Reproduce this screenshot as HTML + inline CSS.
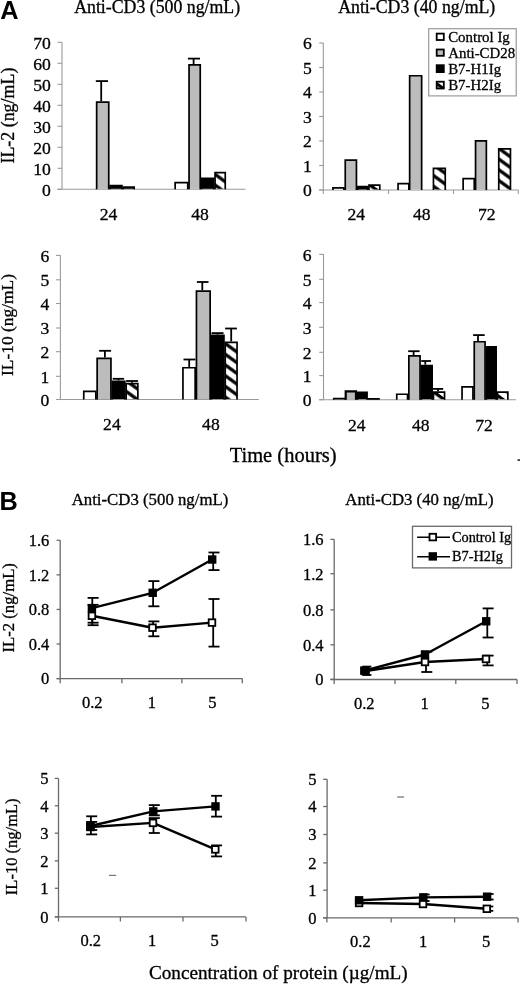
<!DOCTYPE html><html><head><meta charset="utf-8"><style>html,body{margin:0;padding:0;background:#fff;}svg{display:block;will-change:transform;}</style></head><body>
<svg width="520" height="985" viewBox="0 0 520 985">
<defs><pattern id="hatch" patternUnits="userSpaceOnUse" width="8.66" height="8.66" patternTransform="rotate(36)"><rect width="8.66" height="8.66" fill="#fff"/><rect y="0" width="8.66" height="3.24" fill="#000"/></pattern></defs>
<rect width="520" height="985" fill="#fff"/>
<text x="0.3" y="18.6" font-size="25.3" text-anchor="start" font-family='"Liberation Sans", sans-serif' font-weight="bold" fill="#000" stroke="#000" stroke-width="0">A</text>
<text x="74.2" y="13.3" font-size="17.8" text-anchor="start" font-family='"Liberation Serif", serif' font-weight="normal" fill="#000" stroke="#000" stroke-width="0.3">Anti-CD3 (500 ng/mL)</text>
<text x="338.2" y="13.3" font-size="17.8" text-anchor="start" font-family='"Liberation Serif", serif' font-weight="normal" fill="#000" stroke="#000" stroke-width="0.3">Anti-CD3 (40 ng/mL)</text>
<line x1="62" y1="42.3" x2="62" y2="189.3" stroke="#9a9a9a" stroke-width="1.1"/>
<line x1="57.5" y1="189.3" x2="62" y2="189.3" stroke="#9a9a9a" stroke-width="1.1"/>
<text x="50.8" y="195.5" font-size="17.6" text-anchor="end" font-family='"Liberation Serif", serif' font-weight="normal" fill="#000" stroke="#000" stroke-width="0.3">0</text>
<line x1="57.5" y1="168.3" x2="62" y2="168.3" stroke="#9a9a9a" stroke-width="1.1"/>
<text x="50.8" y="174.5" font-size="17.6" text-anchor="end" font-family='"Liberation Serif", serif' font-weight="normal" fill="#000" stroke="#000" stroke-width="0.3">10</text>
<line x1="57.5" y1="147.3" x2="62" y2="147.3" stroke="#9a9a9a" stroke-width="1.1"/>
<text x="50.8" y="153.5" font-size="17.6" text-anchor="end" font-family='"Liberation Serif", serif' font-weight="normal" fill="#000" stroke="#000" stroke-width="0.3">20</text>
<line x1="57.5" y1="126.30000000000001" x2="62" y2="126.30000000000001" stroke="#9a9a9a" stroke-width="1.1"/>
<text x="50.8" y="132.5" font-size="17.6" text-anchor="end" font-family='"Liberation Serif", serif' font-weight="normal" fill="#000" stroke="#000" stroke-width="0.3">30</text>
<line x1="57.5" y1="105.30000000000001" x2="62" y2="105.30000000000001" stroke="#9a9a9a" stroke-width="1.1"/>
<text x="50.8" y="111.50000000000001" font-size="17.6" text-anchor="end" font-family='"Liberation Serif", serif' font-weight="normal" fill="#000" stroke="#000" stroke-width="0.3">40</text>
<line x1="57.5" y1="84.30000000000001" x2="62" y2="84.30000000000001" stroke="#9a9a9a" stroke-width="1.1"/>
<text x="50.8" y="90.50000000000001" font-size="17.6" text-anchor="end" font-family='"Liberation Serif", serif' font-weight="normal" fill="#000" stroke="#000" stroke-width="0.3">50</text>
<line x1="57.5" y1="63.30000000000001" x2="62" y2="63.30000000000001" stroke="#9a9a9a" stroke-width="1.1"/>
<text x="50.8" y="69.50000000000001" font-size="17.6" text-anchor="end" font-family='"Liberation Serif", serif' font-weight="normal" fill="#000" stroke="#000" stroke-width="0.3">60</text>
<line x1="57.5" y1="42.30000000000001" x2="62" y2="42.30000000000001" stroke="#9a9a9a" stroke-width="1.1"/>
<text x="50.8" y="48.500000000000014" font-size="17.6" text-anchor="end" font-family='"Liberation Serif", serif' font-weight="normal" fill="#000" stroke="#000" stroke-width="0.3">70</text>
<line x1="57.5" y1="189.3" x2="245.5" y2="189.3" stroke="#9a9a9a" stroke-width="1.1"/>
<rect x="110.05" y="185.65" width="11.90" height="3.15" fill="#000"/>
<path d="M110.05,189.30 V185.65 H121.95 V189.30" fill="none" stroke="#000" stroke-width="1.7"/>
<rect x="123.25" y="187.05" width="10.90" height="1.75" fill="#000"/>
<path d="M123.25,189.30 V187.05 H134.15 V189.30" fill="none" stroke="#000" stroke-width="1.7"/>
<rect x="96.65" y="102.05" width="12.10" height="86.75" fill="#bcbcbc"/>
<path d="M96.65,189.30 V102.05 H108.75 V189.30" fill="none" stroke="#000" stroke-width="1.7"/>
<line x1="101.2" y1="81.1" x2="101.2" y2="101.2" stroke="#000" stroke-width="1.8"/>
<line x1="95.8" y1="81.1" x2="108.0" y2="81.1" stroke="#000" stroke-width="1.8"/>
<rect x="175.15" y="182.65" width="12.60" height="6.15" fill="#fff"/>
<path d="M175.15,189.30 V182.65 H187.75 V189.30" fill="none" stroke="#000" stroke-width="1.7"/>
<rect x="201.55" y="178.35" width="12.20" height="10.45" fill="#000"/>
<path d="M201.55,189.30 V178.35 H213.75 V189.30" fill="none" stroke="#000" stroke-width="1.7"/>
<rect x="215.05" y="172.65" width="10.20" height="16.15" fill="url(#h0)"/>
<path d="M215.05,189.30 V172.65 H225.25 V189.30" fill="none" stroke="#000" stroke-width="1.7"/>
<rect x="189.05" y="64.95" width="11.20" height="123.85" fill="#bcbcbc"/>
<path d="M189.05,189.30 V64.95 H200.25 V189.30" fill="none" stroke="#000" stroke-width="1.7"/>
<line x1="193.6" y1="58.6" x2="193.6" y2="64.1" stroke="#000" stroke-width="1.8"/>
<line x1="187.9" y1="58.6" x2="200.0" y2="58.6" stroke="#000" stroke-width="1.8"/>
<text x="108.5" y="219.5" font-size="17.6" text-anchor="middle" font-family='"Liberation Serif", serif' font-weight="normal" fill="#000" stroke="#000" stroke-width="0.3">24</text>
<text x="200.1" y="219.5" font-size="17.6" text-anchor="middle" font-family='"Liberation Serif", serif' font-weight="normal" fill="#000" stroke="#000" stroke-width="0.3">48</text>
<text x="13.8" y="115.6" font-size="17.9" text-anchor="middle" font-family='"Liberation Serif", serif' font-weight="normal" fill="#000" stroke="#000" stroke-width="0.3" transform="rotate(-90 13.8 115.6)">IL-2 (ng/mL)</text>
<line x1="323.3" y1="42.9" x2="323.3" y2="194" stroke="#9a9a9a" stroke-width="1.1"/>
<line x1="319.2" y1="190.0" x2="323.3" y2="190.0" stroke="#9a9a9a" stroke-width="1.1"/>
<text x="311.8" y="196.2" font-size="17.6" text-anchor="end" font-family='"Liberation Serif", serif' font-weight="normal" fill="#000" stroke="#000" stroke-width="0.3">0</text>
<line x1="319.2" y1="165.5" x2="323.3" y2="165.5" stroke="#9a9a9a" stroke-width="1.1"/>
<text x="311.8" y="171.7" font-size="17.6" text-anchor="end" font-family='"Liberation Serif", serif' font-weight="normal" fill="#000" stroke="#000" stroke-width="0.3">1</text>
<line x1="319.2" y1="141.0" x2="323.3" y2="141.0" stroke="#9a9a9a" stroke-width="1.1"/>
<text x="311.8" y="147.2" font-size="17.6" text-anchor="end" font-family='"Liberation Serif", serif' font-weight="normal" fill="#000" stroke="#000" stroke-width="0.3">2</text>
<line x1="319.2" y1="116.5" x2="323.3" y2="116.5" stroke="#9a9a9a" stroke-width="1.1"/>
<text x="311.8" y="122.7" font-size="17.6" text-anchor="end" font-family='"Liberation Serif", serif' font-weight="normal" fill="#000" stroke="#000" stroke-width="0.3">3</text>
<line x1="319.2" y1="92.0" x2="323.3" y2="92.0" stroke="#9a9a9a" stroke-width="1.1"/>
<text x="311.8" y="98.2" font-size="17.6" text-anchor="end" font-family='"Liberation Serif", serif' font-weight="normal" fill="#000" stroke="#000" stroke-width="0.3">4</text>
<line x1="319.2" y1="67.5" x2="323.3" y2="67.5" stroke="#9a9a9a" stroke-width="1.1"/>
<text x="311.8" y="73.7" font-size="17.6" text-anchor="end" font-family='"Liberation Serif", serif' font-weight="normal" fill="#000" stroke="#000" stroke-width="0.3">5</text>
<line x1="319.2" y1="43.0" x2="323.3" y2="43.0" stroke="#9a9a9a" stroke-width="1.1"/>
<text x="311.8" y="49.2" font-size="17.6" text-anchor="end" font-family='"Liberation Serif", serif' font-weight="normal" fill="#000" stroke="#000" stroke-width="0.3">6</text>
<line x1="319.2" y1="190" x2="518.5" y2="190" stroke="#9a9a9a" stroke-width="1.1"/>
<line x1="388.5" y1="190" x2="388.5" y2="194" stroke="#9a9a9a" stroke-width="1.1"/>
<line x1="453.5" y1="190" x2="453.5" y2="194" stroke="#9a9a9a" stroke-width="1.1"/>
<line x1="518.3" y1="190" x2="518.3" y2="194" stroke="#9a9a9a" stroke-width="1.1"/>
<rect x="332.95" y="187.95" width="11.00" height="1.55" fill="#fff"/>
<path d="M332.95,190.00 V187.95 H343.95 V190.00" fill="none" stroke="#000" stroke-width="1.7"/>
<rect x="345.25" y="160.05" width="11.20" height="29.45" fill="#bcbcbc"/>
<path d="M345.25,190.00 V160.05 H356.45 V190.00" fill="none" stroke="#000" stroke-width="1.7"/>
<rect x="357.75" y="186.65" width="9.90" height="2.85" fill="#000"/>
<path d="M357.75,190.00 V186.65 H367.65 V190.00" fill="none" stroke="#000" stroke-width="1.7"/>
<rect x="368.95" y="185.05" width="10.80" height="4.45" fill="url(#hatch)"/>
<path d="M368.95,190.00 V185.05 H379.75 V190.00" fill="none" stroke="#000" stroke-width="1.7"/>
<rect x="398.05" y="183.55" width="10.80" height="5.95" fill="#fff"/>
<path d="M398.05,190.00 V183.55 H408.85 V190.00" fill="none" stroke="#000" stroke-width="1.7"/>
<rect x="409.65" y="75.75" width="12.00" height="113.75" fill="#bcbcbc"/>
<path d="M409.65,190.00 V75.75 H421.65 V190.00" fill="none" stroke="#000" stroke-width="1.7"/>
<rect x="433.45" y="168.35" width="11.80" height="21.15" fill="url(#h1)"/>
<path d="M433.45,190.00 V168.35 H445.25 V190.00" fill="none" stroke="#000" stroke-width="1.7"/>
<rect x="463.15" y="178.65" width="11.10" height="10.85" fill="#fff"/>
<path d="M463.15,190.00 V178.65 H474.25 V190.00" fill="none" stroke="#000" stroke-width="1.7"/>
<rect x="475.55" y="140.95" width="10.80" height="48.55" fill="#bcbcbc"/>
<path d="M475.55,190.00 V140.95 H486.35 V190.00" fill="none" stroke="#000" stroke-width="1.7"/>
<rect x="498.75" y="148.95" width="11.70" height="40.55" fill="url(#h2)"/>
<path d="M498.75,190.00 V148.95 H510.45 V190.00" fill="none" stroke="#000" stroke-width="1.7"/>
<text x="356.3" y="219.7" font-size="17.6" text-anchor="middle" font-family='"Liberation Serif", serif' font-weight="normal" fill="#000" stroke="#000" stroke-width="0.3">24</text>
<text x="421.7" y="219.7" font-size="17.6" text-anchor="middle" font-family='"Liberation Serif", serif' font-weight="normal" fill="#000" stroke="#000" stroke-width="0.3">48</text>
<text x="486.8" y="219.7" font-size="17.6" text-anchor="middle" font-family='"Liberation Serif", serif' font-weight="normal" fill="#000" stroke="#000" stroke-width="0.3">72</text>
<rect x="428.7" y="28.7" width="87.5" height="67.2" fill="#fff" stroke="#9a9a9a" stroke-width="1.2"/>
<rect x="436.7" y="33.6" width="7.1" height="6.40" fill="#fff" stroke="#000" stroke-width="1.8"/>
<text x="448.2" y="42.2" font-size="14.9" text-anchor="start" font-family='"Liberation Serif", serif' font-weight="normal" fill="#000" stroke="#000" stroke-width="0.3">Control Ig</text>
<rect x="436.7" y="49.5" width="7.1" height="6.30" fill="#bcbcbc" stroke="#000" stroke-width="1.8"/>
<text x="448.2" y="58.0" font-size="14.9" text-anchor="start" font-family='"Liberation Serif", serif' font-weight="normal" fill="#000" stroke="#000" stroke-width="0.3">Anti-CD28</text>
<rect x="436.7" y="65.2" width="7.1" height="6.90" fill="#000" stroke="#000" stroke-width="1.8"/>
<text x="448.2" y="74.0" font-size="14.9" text-anchor="start" font-family='"Liberation Serif", serif' font-weight="normal" fill="#000" stroke="#000" stroke-width="0.3">B7-H1Ig</text>
<rect x="436.7" y="81.7" width="7.1" height="6.80" fill="url(#hatch)" stroke="#000" stroke-width="1.8"/>
<text x="448.2" y="90.1" font-size="14.9" text-anchor="start" font-family='"Liberation Serif", serif' font-weight="normal" fill="#000" stroke="#000" stroke-width="0.3">B7-H2Ig</text>
<line x1="60.4" y1="255.2" x2="60.4" y2="399.5" stroke="#9a9a9a" stroke-width="1.1"/>
<line x1="56" y1="399.5" x2="60.4" y2="399.5" stroke="#9a9a9a" stroke-width="1.1"/>
<text x="49.2" y="405.7" font-size="17.6" text-anchor="end" font-family='"Liberation Serif", serif' font-weight="normal" fill="#000" stroke="#000" stroke-width="0.3">0</text>
<line x1="56" y1="376.3" x2="60.4" y2="376.3" stroke="#9a9a9a" stroke-width="1.1"/>
<text x="49.2" y="382.5" font-size="17.6" text-anchor="end" font-family='"Liberation Serif", serif' font-weight="normal" fill="#000" stroke="#000" stroke-width="0.3">1</text>
<line x1="56" y1="351.7" x2="60.4" y2="351.7" stroke="#9a9a9a" stroke-width="1.1"/>
<text x="49.2" y="357.9" font-size="17.6" text-anchor="end" font-family='"Liberation Serif", serif' font-weight="normal" fill="#000" stroke="#000" stroke-width="0.3">2</text>
<line x1="56" y1="328.0" x2="60.4" y2="328.0" stroke="#9a9a9a" stroke-width="1.1"/>
<text x="49.2" y="334.2" font-size="17.6" text-anchor="end" font-family='"Liberation Serif", serif' font-weight="normal" fill="#000" stroke="#000" stroke-width="0.3">3</text>
<line x1="56" y1="303.5" x2="60.4" y2="303.5" stroke="#9a9a9a" stroke-width="1.1"/>
<text x="49.2" y="309.7" font-size="17.6" text-anchor="end" font-family='"Liberation Serif", serif' font-weight="normal" fill="#000" stroke="#000" stroke-width="0.3">4</text>
<line x1="56" y1="279.8" x2="60.4" y2="279.8" stroke="#9a9a9a" stroke-width="1.1"/>
<text x="49.2" y="286.0" font-size="17.6" text-anchor="end" font-family='"Liberation Serif", serif' font-weight="normal" fill="#000" stroke="#000" stroke-width="0.3">5</text>
<line x1="56" y1="255.4" x2="60.4" y2="255.4" stroke="#9a9a9a" stroke-width="1.1"/>
<text x="49.2" y="261.6" font-size="17.6" text-anchor="end" font-family='"Liberation Serif", serif' font-weight="normal" fill="#000" stroke="#000" stroke-width="0.3">6</text>
<line x1="56" y1="399.5" x2="258.8" y2="399.5" stroke="#9a9a9a" stroke-width="1.1"/>
<rect x="83.75" y="391.35" width="12.10" height="7.65" fill="#fff"/>
<path d="M83.75,399.50 V391.35 H95.85 V399.50" fill="none" stroke="#000" stroke-width="1.7"/>
<rect x="112.25" y="381.25" width="12.60" height="17.75" fill="#000"/>
<path d="M112.25,399.50 V381.25 H124.85 V399.50" fill="none" stroke="#000" stroke-width="1.7"/>
<line x1="118.5" y1="378.8" x2="118.5" y2="380.4" stroke="#000" stroke-width="1.8"/>
<line x1="112.7" y1="378.8" x2="124.1" y2="378.8" stroke="#000" stroke-width="1.8"/>
<rect x="126.15" y="383.65" width="11.70" height="15.35" fill="url(#h3)"/>
<path d="M126.15,399.50 V383.65 H137.85 V399.50" fill="none" stroke="#000" stroke-width="1.7"/>
<line x1="132" y1="381" x2="132" y2="382.8" stroke="#000" stroke-width="1.8"/>
<line x1="126.1" y1="381" x2="138" y2="381" stroke="#000" stroke-width="1.8"/>
<rect x="97.15" y="358.35" width="13.80" height="40.65" fill="#bcbcbc"/>
<path d="M97.15,399.50 V358.35 H110.95 V399.50" fill="none" stroke="#000" stroke-width="1.7"/>
<line x1="104.9" y1="350.8" x2="104.9" y2="357.5" stroke="#000" stroke-width="1.8"/>
<line x1="99.2" y1="350.8" x2="111.1" y2="350.8" stroke="#000" stroke-width="1.8"/>
<rect x="182.95" y="367.75" width="12.20" height="31.25" fill="#fff"/>
<path d="M182.95,399.50 V367.75 H195.15 V399.50" fill="none" stroke="#000" stroke-width="1.7"/>
<line x1="189.2" y1="359.5" x2="189.2" y2="366.9" stroke="#000" stroke-width="1.8"/>
<line x1="183.5" y1="359.5" x2="195.4" y2="359.5" stroke="#000" stroke-width="1.8"/>
<rect x="211.45" y="335.45" width="12.50" height="63.55" fill="#000"/>
<path d="M211.45,399.50 V335.45 H223.95 V399.50" fill="none" stroke="#000" stroke-width="1.7"/>
<line x1="217.5" y1="333.1" x2="217.5" y2="334.6" stroke="#000" stroke-width="1.8"/>
<line x1="211.5" y1="333.1" x2="223.5" y2="333.1" stroke="#000" stroke-width="1.8"/>
<rect x="225.25" y="342.35" width="11.80" height="56.65" fill="url(#h4)"/>
<path d="M225.25,399.50 V342.35 H237.05 V399.50" fill="none" stroke="#000" stroke-width="1.7"/>
<line x1="231.2" y1="328.5" x2="231.2" y2="341.5" stroke="#000" stroke-width="1.8"/>
<line x1="225.1" y1="328.5" x2="236.9" y2="328.5" stroke="#000" stroke-width="1.8"/>
<rect x="196.45" y="291.15" width="13.70" height="107.85" fill="#bcbcbc"/>
<path d="M196.45,399.50 V291.15 H210.15 V399.50" fill="none" stroke="#000" stroke-width="1.7"/>
<line x1="202.3" y1="282" x2="202.3" y2="290.3" stroke="#000" stroke-width="1.8"/>
<line x1="196.9" y1="282" x2="208.5" y2="282" stroke="#000" stroke-width="1.8"/>
<text x="111.9" y="430" font-size="17.6" text-anchor="middle" font-family='"Liberation Serif", serif' font-weight="normal" fill="#000" stroke="#000" stroke-width="0.3">24</text>
<text x="210.9" y="430" font-size="17.6" text-anchor="middle" font-family='"Liberation Serif", serif' font-weight="normal" fill="#000" stroke="#000" stroke-width="0.3">48</text>
<text x="13.3" y="325.0" font-size="17.4" text-anchor="middle" font-family='"Liberation Serif", serif' font-weight="normal" fill="#000" stroke="#000" stroke-width="0.3" transform="rotate(-90 13.3 325.0)">IL-10 (ng/mL)</text>
<line x1="323.5" y1="254.3" x2="323.5" y2="399.7" stroke="#9a9a9a" stroke-width="1.1"/>
<line x1="319.2" y1="399.7" x2="323.5" y2="399.7" stroke="#9a9a9a" stroke-width="1.1"/>
<text x="311.6" y="405.9" font-size="17.6" text-anchor="end" font-family='"Liberation Serif", serif' font-weight="normal" fill="#000" stroke="#000" stroke-width="0.3">0</text>
<line x1="319.2" y1="375.6" x2="323.5" y2="375.6" stroke="#9a9a9a" stroke-width="1.1"/>
<text x="311.6" y="381.8" font-size="17.6" text-anchor="end" font-family='"Liberation Serif", serif' font-weight="normal" fill="#000" stroke="#000" stroke-width="0.3">1</text>
<line x1="319.2" y1="352.3" x2="323.5" y2="352.3" stroke="#9a9a9a" stroke-width="1.1"/>
<text x="311.6" y="358.5" font-size="17.6" text-anchor="end" font-family='"Liberation Serif", serif' font-weight="normal" fill="#000" stroke="#000" stroke-width="0.3">2</text>
<line x1="319.2" y1="327.3" x2="323.5" y2="327.3" stroke="#9a9a9a" stroke-width="1.1"/>
<text x="311.6" y="333.5" font-size="17.6" text-anchor="end" font-family='"Liberation Serif", serif' font-weight="normal" fill="#000" stroke="#000" stroke-width="0.3">3</text>
<line x1="319.2" y1="302.6" x2="323.5" y2="302.6" stroke="#9a9a9a" stroke-width="1.1"/>
<text x="311.6" y="308.8" font-size="17.6" text-anchor="end" font-family='"Liberation Serif", serif' font-weight="normal" fill="#000" stroke="#000" stroke-width="0.3">4</text>
<line x1="319.2" y1="279.3" x2="323.5" y2="279.3" stroke="#9a9a9a" stroke-width="1.1"/>
<text x="311.6" y="285.5" font-size="17.6" text-anchor="end" font-family='"Liberation Serif", serif' font-weight="normal" fill="#000" stroke="#000" stroke-width="0.3">5</text>
<line x1="319.2" y1="254.4" x2="323.5" y2="254.4" stroke="#9a9a9a" stroke-width="1.1"/>
<text x="311.6" y="260.6" font-size="17.6" text-anchor="end" font-family='"Liberation Serif", serif' font-weight="normal" fill="#000" stroke="#000" stroke-width="0.3">6</text>
<line x1="319.2" y1="399.7" x2="516" y2="399.7" stroke="#9a9a9a" stroke-width="1.1"/>
<rect x="333.75" y="398.65" width="11.60" height="0.55" fill="#fff"/>
<path d="M333.75,399.70 V398.65 H345.35 V399.70" fill="none" stroke="#000" stroke-width="1.7"/>
<rect x="345.70" y="391.30" width="10.30" height="7.90" fill="#bcbcbc"/>
<path d="M345.70,399.70 V391.30 H356.00 V399.70" fill="none" stroke="#000" stroke-width="2.2"/>
<rect x="357.55" y="392.35" width="9.50" height="6.85" fill="#000"/>
<path d="M357.55,399.70 V392.35 H367.05 V399.70" fill="none" stroke="#000" stroke-width="1.7"/>
<rect x="368.35" y="398.85" width="10.60" height="0.35" fill="#000"/>
<path d="M368.35,399.70 V398.85 H378.95 V399.70" fill="none" stroke="#000" stroke-width="1.7"/>
<rect x="396.75" y="394.25" width="10.80" height="4.95" fill="#fff"/>
<path d="M396.75,399.70 V394.25 H407.55 V399.70" fill="none" stroke="#000" stroke-width="1.7"/>
<rect x="421.35" y="365.55" width="10.80" height="33.65" fill="#000"/>
<path d="M421.35,399.70 V365.55 H432.15 V399.70" fill="none" stroke="#000" stroke-width="1.7"/>
<line x1="425.3" y1="361" x2="425.3" y2="364.7" stroke="#000" stroke-width="1.8"/>
<line x1="421.2" y1="361" x2="431" y2="361" stroke="#000" stroke-width="1.8"/>
<rect x="433.45" y="392.15" width="11.10" height="7.05" fill="url(#hatch)"/>
<path d="M433.45,399.70 V392.15 H444.55 V399.70" fill="none" stroke="#000" stroke-width="1.7"/>
<line x1="438" y1="388.9" x2="438" y2="391.3" stroke="#000" stroke-width="1.8"/>
<line x1="433" y1="388.9" x2="443.2" y2="388.9" stroke="#000" stroke-width="1.8"/>
<rect x="408.85" y="355.85" width="11.20" height="43.35" fill="#bcbcbc"/>
<path d="M408.85,399.70 V355.85 H420.05 V399.70" fill="none" stroke="#000" stroke-width="1.7"/>
<line x1="413.6" y1="351.2" x2="413.6" y2="355.0" stroke="#000" stroke-width="1.8"/>
<line x1="408.2" y1="351.2" x2="419.6" y2="351.2" stroke="#000" stroke-width="1.8"/>
<rect x="462.05" y="386.85" width="10.90" height="12.35" fill="#fff"/>
<path d="M462.05,399.70 V386.85 H472.95 V399.70" fill="none" stroke="#000" stroke-width="1.7"/>
<rect x="486.35" y="346.85" width="9.80" height="52.35" fill="#000"/>
<path d="M486.35,399.70 V346.85 H496.15 V399.70" fill="none" stroke="#000" stroke-width="1.7"/>
<rect x="497.45" y="392.15" width="10.40" height="7.05" fill="url(#hatch)"/>
<path d="M497.45,399.70 V392.15 H507.85 V399.70" fill="none" stroke="#000" stroke-width="1.7"/>
<rect x="474.25" y="341.75" width="10.80" height="57.45" fill="#bcbcbc"/>
<path d="M474.25,399.70 V341.75 H485.05 V399.70" fill="none" stroke="#000" stroke-width="1.7"/>
<line x1="478" y1="335.1" x2="478" y2="340.9" stroke="#000" stroke-width="1.8"/>
<line x1="473.1" y1="335.1" x2="484.7" y2="335.1" stroke="#000" stroke-width="1.8"/>
<text x="356.7" y="431" font-size="17.6" text-anchor="middle" font-family='"Liberation Serif", serif' font-weight="normal" fill="#000" stroke="#000" stroke-width="0.3">24</text>
<text x="420.7" y="431" font-size="17.6" text-anchor="middle" font-family='"Liberation Serif", serif' font-weight="normal" fill="#000" stroke="#000" stroke-width="0.3">48</text>
<text x="484.0" y="431" font-size="17.6" text-anchor="middle" font-family='"Liberation Serif", serif' font-weight="normal" fill="#000" stroke="#000" stroke-width="0.3">72</text>
<text x="283.1" y="461.9" font-size="20.5" text-anchor="middle" font-family='"Liberation Serif", serif' font-weight="normal" fill="#000" stroke="#000" stroke-width="0.3">Time (hours)</text>
<text x="-0.5" y="510.4" font-size="25.3" text-anchor="start" font-family='"Liberation Sans", sans-serif' font-weight="bold" fill="#000" stroke="#000" stroke-width="0">B</text>
<text x="71.7" y="504.9" font-size="16.8" text-anchor="start" font-family='"Liberation Serif", serif' font-weight="normal" fill="#000" stroke="#000" stroke-width="0.3">Anti-CD3 (500 ng/mL)</text>
<text x="345.3" y="505.2" font-size="16.8" text-anchor="start" font-family='"Liberation Serif", serif' font-weight="normal" fill="#000" stroke="#000" stroke-width="0.3">Anti-CD3 (40 ng/mL)</text>
<line x1="60.2" y1="540.3" x2="60.2" y2="678.5" stroke="#6a6a6a" stroke-width="1.3"/>
<line x1="56.6" y1="678.6" x2="60.2" y2="678.6" stroke="#6a6a6a" stroke-width="1.3"/>
<text x="49.3" y="684.4" font-size="16.5" text-anchor="end" font-family='"Liberation Serif", serif' font-weight="normal" fill="#000" stroke="#000" stroke-width="0.3">0</text>
<line x1="56.6" y1="644.02" x2="60.2" y2="644.02" stroke="#6a6a6a" stroke-width="1.3"/>
<text x="49.3" y="649.8199999999999" font-size="16.5" text-anchor="end" font-family='"Liberation Serif", serif' font-weight="normal" fill="#000" stroke="#000" stroke-width="0.3">0.4</text>
<line x1="56.6" y1="609.44" x2="60.2" y2="609.44" stroke="#6a6a6a" stroke-width="1.3"/>
<text x="49.3" y="615.24" font-size="16.5" text-anchor="end" font-family='"Liberation Serif", serif' font-weight="normal" fill="#000" stroke="#000" stroke-width="0.3">0.8</text>
<line x1="56.6" y1="574.86" x2="60.2" y2="574.86" stroke="#6a6a6a" stroke-width="1.3"/>
<text x="49.3" y="580.66" font-size="16.5" text-anchor="end" font-family='"Liberation Serif", serif' font-weight="normal" fill="#000" stroke="#000" stroke-width="0.3">1.2</text>
<line x1="56.6" y1="540.28" x2="60.2" y2="540.28" stroke="#6a6a6a" stroke-width="1.3"/>
<text x="49.3" y="546.0799999999999" font-size="16.5" text-anchor="end" font-family='"Liberation Serif", serif' font-weight="normal" fill="#000" stroke="#000" stroke-width="0.3">1.6</text>
<line x1="56.6" y1="678.6" x2="242.3" y2="678.6" stroke="#6a6a6a" stroke-width="1.3"/>
<line x1="60.2" y1="678.6" x2="60.2" y2="683.2" stroke="#6a6a6a" stroke-width="1.3"/>
<line x1="121.9" y1="678.6" x2="121.9" y2="683.2" stroke="#6a6a6a" stroke-width="1.3"/>
<line x1="181.9" y1="678.6" x2="181.9" y2="683.2" stroke="#6a6a6a" stroke-width="1.3"/>
<line x1="242.3" y1="678.6" x2="242.3" y2="683.2" stroke="#6a6a6a" stroke-width="1.3"/>
<text x="92.3" y="707.7" font-size="16.5" text-anchor="middle" font-family='"Liberation Serif", serif' font-weight="normal" fill="#000" stroke="#000" stroke-width="0.3">0.2</text>
<text x="151.9" y="707.7" font-size="16.5" text-anchor="middle" font-family='"Liberation Serif", serif' font-weight="normal" fill="#000" stroke="#000" stroke-width="0.3">1</text>
<text x="212.3" y="707.7" font-size="16.5" text-anchor="middle" font-family='"Liberation Serif", serif' font-weight="normal" fill="#000" stroke="#000" stroke-width="0.3">5</text>
<text x="14.2" y="607.8" font-size="16.7" text-anchor="middle" font-family='"Liberation Serif", serif' font-weight="normal" fill="#000" stroke="#000" stroke-width="0.3" transform="rotate(-90 14.2 607.8)">IL-2 (ng/mL)</text>
<line x1="92.3" y1="604.8" x2="92.3" y2="625.2" stroke="#000" stroke-width="1.8"/>
<line x1="87.6" y1="604.8" x2="98.6" y2="604.8" stroke="#000" stroke-width="1.8"/>
<line x1="87.6" y1="625.2" x2="98.6" y2="625.2" stroke="#000" stroke-width="1.8"/>
<line x1="92.3" y1="597.9" x2="92.3" y2="622.7" stroke="#000" stroke-width="1.8"/>
<line x1="87.6" y1="597.9" x2="98.6" y2="597.9" stroke="#000" stroke-width="1.8"/>
<line x1="87.6" y1="622.7" x2="98.6" y2="622.7" stroke="#000" stroke-width="1.8"/>
<line x1="153.1" y1="621.4" x2="153.1" y2="636.3" stroke="#000" stroke-width="1.8"/>
<line x1="148.4" y1="621.4" x2="159.4" y2="621.4" stroke="#000" stroke-width="1.8"/>
<line x1="148.4" y1="636.3" x2="159.4" y2="636.3" stroke="#000" stroke-width="1.8"/>
<line x1="153.1" y1="581.1" x2="153.1" y2="606.3" stroke="#000" stroke-width="1.8"/>
<line x1="148.4" y1="581.1" x2="159.4" y2="581.1" stroke="#000" stroke-width="1.8"/>
<line x1="148.4" y1="606.3" x2="159.4" y2="606.3" stroke="#000" stroke-width="1.8"/>
<line x1="213.2" y1="599.0" x2="213.2" y2="646.6" stroke="#000" stroke-width="1.8"/>
<line x1="208.5" y1="599.0" x2="219.5" y2="599.0" stroke="#000" stroke-width="1.8"/>
<line x1="208.5" y1="646.6" x2="219.5" y2="646.6" stroke="#000" stroke-width="1.8"/>
<line x1="213.2" y1="552.5" x2="213.2" y2="570.1" stroke="#000" stroke-width="1.8"/>
<line x1="208.5" y1="552.5" x2="219.5" y2="552.5" stroke="#000" stroke-width="1.8"/>
<line x1="208.5" y1="570.1" x2="219.5" y2="570.1" stroke="#000" stroke-width="1.8"/>
<polyline points="91.90,615.80 152.50,627.70 212.00,622.60" fill="none" stroke="#000" stroke-width="2.4" stroke-linejoin="round"/>
<polyline points="91.90,608.20 152.70,592.80 212.20,559.50" fill="none" stroke="#000" stroke-width="2.4" stroke-linejoin="round"/>
<rect x="88.60" y="612.50" width="6.60" height="6.60" fill="#fff" stroke="#000" stroke-width="1.8"/>
<rect x="149.20" y="624.40" width="6.60" height="6.60" fill="#fff" stroke="#000" stroke-width="1.8"/>
<rect x="208.70" y="619.30" width="6.60" height="6.60" fill="#fff" stroke="#000" stroke-width="1.8"/>
<rect x="87.70" y="604.00" width="8.4" height="8.4" fill="#000"/>
<rect x="148.50" y="588.60" width="8.4" height="8.4" fill="#000"/>
<rect x="208.00" y="555.30" width="8.4" height="8.4" fill="#000"/>
<line x1="334.2" y1="539.4" x2="334.2" y2="679.5" stroke="#6a6a6a" stroke-width="1.3"/>
<line x1="330.4" y1="679.4" x2="334.2" y2="679.4" stroke="#6a6a6a" stroke-width="1.3"/>
<text x="323.5" y="685.1999999999999" font-size="16.5" text-anchor="end" font-family='"Liberation Serif", serif' font-weight="normal" fill="#000" stroke="#000" stroke-width="0.3">0</text>
<line x1="330.4" y1="644.8" x2="334.2" y2="644.8" stroke="#6a6a6a" stroke-width="1.3"/>
<text x="323.5" y="650.5999999999999" font-size="16.5" text-anchor="end" font-family='"Liberation Serif", serif' font-weight="normal" fill="#000" stroke="#000" stroke-width="0.3">0.4</text>
<line x1="330.4" y1="609.9" x2="334.2" y2="609.9" stroke="#6a6a6a" stroke-width="1.3"/>
<text x="323.5" y="615.6999999999999" font-size="16.5" text-anchor="end" font-family='"Liberation Serif", serif' font-weight="normal" fill="#000" stroke="#000" stroke-width="0.3">0.8</text>
<line x1="330.4" y1="573.7" x2="334.2" y2="573.7" stroke="#6a6a6a" stroke-width="1.3"/>
<text x="323.5" y="579.5" font-size="16.5" text-anchor="end" font-family='"Liberation Serif", serif' font-weight="normal" fill="#000" stroke="#000" stroke-width="0.3">1.2</text>
<line x1="330.4" y1="539.4" x2="334.2" y2="539.4" stroke="#6a6a6a" stroke-width="1.3"/>
<text x="323.5" y="545.1999999999999" font-size="16.5" text-anchor="end" font-family='"Liberation Serif", serif' font-weight="normal" fill="#000" stroke="#000" stroke-width="0.3">1.6</text>
<line x1="330.4" y1="679.5" x2="517" y2="679.5" stroke="#6a6a6a" stroke-width="1.3"/>
<line x1="334.2" y1="679.5" x2="334.2" y2="684.0" stroke="#6a6a6a" stroke-width="1.3"/>
<line x1="395" y1="679.5" x2="395" y2="684.0" stroke="#6a6a6a" stroke-width="1.3"/>
<line x1="455.8" y1="679.5" x2="455.8" y2="684.0" stroke="#6a6a6a" stroke-width="1.3"/>
<line x1="517" y1="679.5" x2="517" y2="684.0" stroke="#6a6a6a" stroke-width="1.3"/>
<text x="364.2" y="708.5" font-size="16.5" text-anchor="middle" font-family='"Liberation Serif", serif' font-weight="normal" fill="#000" stroke="#000" stroke-width="0.3">0.2</text>
<text x="424.6" y="708.5" font-size="16.5" text-anchor="middle" font-family='"Liberation Serif", serif' font-weight="normal" fill="#000" stroke="#000" stroke-width="0.3">1</text>
<text x="485.4" y="708.5" font-size="16.5" text-anchor="middle" font-family='"Liberation Serif", serif' font-weight="normal" fill="#000" stroke="#000" stroke-width="0.3">5</text>
<line x1="366.0" y1="666.6" x2="366.0" y2="675.0" stroke="#000" stroke-width="1.8"/>
<line x1="362.2" y1="666.6" x2="371.40000000000003" y2="666.6" stroke="#000" stroke-width="1.8"/>
<line x1="362.2" y1="675.0" x2="371.40000000000003" y2="675.0" stroke="#000" stroke-width="1.8"/>
<line x1="426.0" y1="651.6" x2="426.0" y2="672.0" stroke="#000" stroke-width="1.8"/>
<line x1="421.3" y1="651.6" x2="432.3" y2="651.6" stroke="#000" stroke-width="1.8"/>
<line x1="421.3" y1="672.0" x2="432.3" y2="672.0" stroke="#000" stroke-width="1.8"/>
<line x1="487.3" y1="655.6" x2="487.3" y2="665.4" stroke="#000" stroke-width="1.8"/>
<line x1="482.6" y1="655.6" x2="493.6" y2="655.6" stroke="#000" stroke-width="1.8"/>
<line x1="482.6" y1="665.4" x2="493.6" y2="665.4" stroke="#000" stroke-width="1.8"/>
<line x1="487.3" y1="608.4" x2="487.3" y2="637.5" stroke="#000" stroke-width="1.8"/>
<line x1="482.6" y1="608.4" x2="493.6" y2="608.4" stroke="#000" stroke-width="1.8"/>
<line x1="482.6" y1="637.5" x2="493.6" y2="637.5" stroke="#000" stroke-width="1.8"/>
<polyline points="365.60,671.00 425.00,662.00 486.00,659.00" fill="none" stroke="#000" stroke-width="2.4" stroke-linejoin="round"/>
<polyline points="364.30,670.60 425.00,654.50 486.20,621.30" fill="none" stroke="#000" stroke-width="2.4" stroke-linejoin="round"/>
<rect x="362.30" y="667.70" width="6.60" height="6.60" fill="#fff" stroke="#000" stroke-width="1.8"/>
<rect x="421.70" y="658.70" width="6.60" height="6.60" fill="#fff" stroke="#000" stroke-width="1.8"/>
<rect x="482.70" y="655.70" width="6.60" height="6.60" fill="#fff" stroke="#000" stroke-width="1.8"/>
<rect x="360.10" y="666.40" width="8.4" height="8.4" fill="#000"/>
<rect x="420.80" y="650.30" width="8.4" height="8.4" fill="#000"/>
<rect x="482.00" y="617.10" width="8.4" height="8.4" fill="#000"/>
<rect x="412.5" y="526.3" width="99" height="41.6" fill="#fff" stroke="#6a6a6a" stroke-width="1.3"/>
<line x1="417.1" y1="537.3" x2="450" y2="537.3" stroke="#000" stroke-width="1.6"/>
<line x1="417.1" y1="556.7" x2="450" y2="556.7" stroke="#000" stroke-width="1.6"/>
<rect x="429.50" y="533.80" width="6.60" height="6.60" fill="#fff" stroke="#000" stroke-width="1.8"/>
<rect x="428.60" y="552.20" width="8.4" height="8.4" fill="#000"/>
<text x="452.0" y="541.9" font-size="14.3" text-anchor="start" font-family='"Liberation Serif", serif' font-weight="normal" fill="#000" stroke="#000" stroke-width="0.3">Control Ig</text>
<text x="452.0" y="561.3" font-size="14.3" text-anchor="start" font-family='"Liberation Serif", serif' font-weight="normal" fill="#000" stroke="#000" stroke-width="0.3">B7-H2Ig</text>
<line x1="58.5" y1="778.4" x2="58.5" y2="916.9" stroke="#6a6a6a" stroke-width="1.3"/>
<line x1="54.8" y1="916.9" x2="58.5" y2="916.9" stroke="#6a6a6a" stroke-width="1.3"/>
<text x="48.4" y="922.6999999999999" font-size="16.5" text-anchor="end" font-family='"Liberation Serif", serif' font-weight="normal" fill="#000" stroke="#000" stroke-width="0.3">0</text>
<line x1="54.8" y1="888.3" x2="58.5" y2="888.3" stroke="#6a6a6a" stroke-width="1.3"/>
<text x="48.4" y="894.0999999999999" font-size="16.5" text-anchor="end" font-family='"Liberation Serif", serif' font-weight="normal" fill="#000" stroke="#000" stroke-width="0.3">1</text>
<line x1="54.8" y1="860.9" x2="58.5" y2="860.9" stroke="#6a6a6a" stroke-width="1.3"/>
<text x="48.4" y="866.6999999999999" font-size="16.5" text-anchor="end" font-family='"Liberation Serif", serif' font-weight="normal" fill="#000" stroke="#000" stroke-width="0.3">2</text>
<line x1="54.8" y1="833.2" x2="58.5" y2="833.2" stroke="#6a6a6a" stroke-width="1.3"/>
<text x="48.4" y="839.0" font-size="16.5" text-anchor="end" font-family='"Liberation Serif", serif' font-weight="normal" fill="#000" stroke="#000" stroke-width="0.3">3</text>
<line x1="54.8" y1="805.8" x2="58.5" y2="805.8" stroke="#6a6a6a" stroke-width="1.3"/>
<text x="48.4" y="811.5999999999999" font-size="16.5" text-anchor="end" font-family='"Liberation Serif", serif' font-weight="normal" fill="#000" stroke="#000" stroke-width="0.3">4</text>
<line x1="54.8" y1="778.4" x2="58.5" y2="778.4" stroke="#6a6a6a" stroke-width="1.3"/>
<text x="48.4" y="784.1999999999999" font-size="16.5" text-anchor="end" font-family='"Liberation Serif", serif' font-weight="normal" fill="#000" stroke="#000" stroke-width="0.3">5</text>
<line x1="54.8" y1="916.9" x2="246" y2="916.9" stroke="#6a6a6a" stroke-width="1.3"/>
<line x1="58.5" y1="916.9" x2="58.5" y2="921.5" stroke="#6a6a6a" stroke-width="1.3"/>
<line x1="120.4" y1="916.9" x2="120.4" y2="921.5" stroke="#6a6a6a" stroke-width="1.3"/>
<line x1="183" y1="916.9" x2="183" y2="921.5" stroke="#6a6a6a" stroke-width="1.3"/>
<line x1="246" y1="916.9" x2="246" y2="921.5" stroke="#6a6a6a" stroke-width="1.3"/>
<text x="90.8" y="946.4" font-size="16.5" text-anchor="middle" font-family='"Liberation Serif", serif' font-weight="normal" fill="#000" stroke="#000" stroke-width="0.3">0.2</text>
<text x="152.1" y="946.4" font-size="16.5" text-anchor="middle" font-family='"Liberation Serif", serif' font-weight="normal" fill="#000" stroke="#000" stroke-width="0.3">1</text>
<text x="214.7" y="946.4" font-size="16.5" text-anchor="middle" font-family='"Liberation Serif", serif' font-weight="normal" fill="#000" stroke="#000" stroke-width="0.3">5</text>
<text x="17.1" y="846.8" font-size="16.5" text-anchor="middle" font-family='"Liberation Serif", serif' font-weight="normal" fill="#000" stroke="#000" stroke-width="0.3" transform="rotate(-90 17.1 846.8)">IL-10 (ng/mL)</text>
<line x1="90.9" y1="821.9" x2="90.9" y2="830.0" stroke="#000" stroke-width="1.8"/>
<line x1="86.2" y1="821.9" x2="97.2" y2="821.9" stroke="#000" stroke-width="1.8"/>
<line x1="86.2" y1="830.0" x2="97.2" y2="830.0" stroke="#000" stroke-width="1.8"/>
<line x1="90.9" y1="816.3" x2="90.9" y2="834.4" stroke="#000" stroke-width="1.8"/>
<line x1="86.2" y1="816.3" x2="97.2" y2="816.3" stroke="#000" stroke-width="1.8"/>
<line x1="86.2" y1="834.4" x2="97.2" y2="834.4" stroke="#000" stroke-width="1.8"/>
<line x1="153.5" y1="818.1" x2="153.5" y2="833.0" stroke="#000" stroke-width="1.8"/>
<line x1="148.8" y1="818.1" x2="159.8" y2="818.1" stroke="#000" stroke-width="1.8"/>
<line x1="148.8" y1="833.0" x2="159.8" y2="833.0" stroke="#000" stroke-width="1.8"/>
<line x1="153.5" y1="805.1" x2="153.5" y2="815.4" stroke="#000" stroke-width="1.8"/>
<line x1="148.8" y1="805.1" x2="159.8" y2="805.1" stroke="#000" stroke-width="1.8"/>
<line x1="148.8" y1="815.4" x2="159.8" y2="815.4" stroke="#000" stroke-width="1.8"/>
<line x1="215.8" y1="845.4" x2="215.8" y2="856.4" stroke="#000" stroke-width="1.8"/>
<line x1="211.10000000000002" y1="845.4" x2="222.10000000000002" y2="845.4" stroke="#000" stroke-width="1.8"/>
<line x1="211.10000000000002" y1="856.4" x2="222.10000000000002" y2="856.4" stroke="#000" stroke-width="1.8"/>
<line x1="215.8" y1="795.8" x2="215.8" y2="816.6" stroke="#000" stroke-width="1.8"/>
<line x1="211.10000000000002" y1="795.8" x2="222.10000000000002" y2="795.8" stroke="#000" stroke-width="1.8"/>
<line x1="211.10000000000002" y1="816.6" x2="222.10000000000002" y2="816.6" stroke="#000" stroke-width="1.8"/>
<polyline points="90.40,827.00 153.00,822.90 215.30,849.40" fill="none" stroke="#000" stroke-width="2.4" stroke-linejoin="round"/>
<polyline points="90.40,826.00 153.30,811.40 215.50,806.40" fill="none" stroke="#000" stroke-width="2.4" stroke-linejoin="round"/>
<rect x="87.10" y="823.70" width="6.60" height="6.60" fill="#fff" stroke="#000" stroke-width="1.8"/>
<rect x="149.70" y="819.60" width="6.60" height="6.60" fill="#fff" stroke="#000" stroke-width="1.8"/>
<rect x="212.00" y="846.10" width="6.60" height="6.60" fill="#fff" stroke="#000" stroke-width="1.8"/>
<rect x="86.20" y="821.80" width="8.4" height="8.4" fill="#000"/>
<rect x="149.10" y="807.20" width="8.4" height="8.4" fill="#000"/>
<rect x="211.30" y="802.20" width="8.4" height="8.4" fill="#000"/>
<line x1="109" y1="875.4" x2="116.2" y2="875.4" stroke="#777" stroke-width="1.2"/>
<line x1="327.1" y1="779.3" x2="327.1" y2="918.0" stroke="#6a6a6a" stroke-width="1.3"/>
<line x1="323.2" y1="917.9" x2="327.1" y2="917.9" stroke="#6a6a6a" stroke-width="1.3"/>
<text x="316.4" y="923.6999999999999" font-size="16.5" text-anchor="end" font-family='"Liberation Serif", serif' font-weight="normal" fill="#000" stroke="#000" stroke-width="0.3">0</text>
<line x1="323.2" y1="890.2" x2="327.1" y2="890.2" stroke="#6a6a6a" stroke-width="1.3"/>
<text x="316.4" y="896.0" font-size="16.5" text-anchor="end" font-family='"Liberation Serif", serif' font-weight="normal" fill="#000" stroke="#000" stroke-width="0.3">1</text>
<line x1="323.2" y1="862.9" x2="327.1" y2="862.9" stroke="#6a6a6a" stroke-width="1.3"/>
<text x="316.4" y="868.6999999999999" font-size="16.5" text-anchor="end" font-family='"Liberation Serif", serif' font-weight="normal" fill="#000" stroke="#000" stroke-width="0.3">2</text>
<line x1="323.2" y1="834.5" x2="327.1" y2="834.5" stroke="#6a6a6a" stroke-width="1.3"/>
<text x="316.4" y="840.3" font-size="16.5" text-anchor="end" font-family='"Liberation Serif", serif' font-weight="normal" fill="#000" stroke="#000" stroke-width="0.3">3</text>
<line x1="323.2" y1="806.5" x2="327.1" y2="806.5" stroke="#6a6a6a" stroke-width="1.3"/>
<text x="316.4" y="812.3" font-size="16.5" text-anchor="end" font-family='"Liberation Serif", serif' font-weight="normal" fill="#000" stroke="#000" stroke-width="0.3">4</text>
<line x1="323.2" y1="779.3" x2="327.1" y2="779.3" stroke="#6a6a6a" stroke-width="1.3"/>
<text x="316.4" y="785.0999999999999" font-size="16.5" text-anchor="end" font-family='"Liberation Serif", serif' font-weight="normal" fill="#000" stroke="#000" stroke-width="0.3">5</text>
<line x1="323.2" y1="917.9" x2="518" y2="917.9" stroke="#6a6a6a" stroke-width="1.3"/>
<line x1="326.9" y1="917.9" x2="326.9" y2="922.5" stroke="#6a6a6a" stroke-width="1.3"/>
<line x1="391.2" y1="917.9" x2="391.2" y2="922.5" stroke="#6a6a6a" stroke-width="1.3"/>
<line x1="454.6" y1="917.9" x2="454.6" y2="922.5" stroke="#6a6a6a" stroke-width="1.3"/>
<line x1="518" y1="917.9" x2="518" y2="922.5" stroke="#6a6a6a" stroke-width="1.3"/>
<text x="360.4" y="946.8" font-size="16.5" text-anchor="middle" font-family='"Liberation Serif", serif' font-weight="normal" fill="#000" stroke="#000" stroke-width="0.3">0.2</text>
<text x="423.1" y="946.8" font-size="16.5" text-anchor="middle" font-family='"Liberation Serif", serif' font-weight="normal" fill="#000" stroke="#000" stroke-width="0.3">1</text>
<text x="486.2" y="946.8" font-size="16.5" text-anchor="middle" font-family='"Liberation Serif", serif' font-weight="normal" fill="#000" stroke="#000" stroke-width="0.3">5</text>
<line x1="424.3" y1="894.5" x2="424.3" y2="901.0" stroke="#000" stroke-width="1.8"/>
<line x1="420.6" y1="894.5" x2="429.6" y2="894.5" stroke="#000" stroke-width="1.8"/>
<line x1="420.6" y1="901.0" x2="429.6" y2="901.0" stroke="#000" stroke-width="1.8"/>
<line x1="488.3" y1="894.0" x2="488.3" y2="899.5" stroke="#000" stroke-width="1.8"/>
<line x1="484.6" y1="894.0" x2="493.6" y2="894.0" stroke="#000" stroke-width="1.8"/>
<line x1="484.6" y1="899.5" x2="493.6" y2="899.5" stroke="#000" stroke-width="1.8"/>
<line x1="488.0" y1="906.5" x2="488.0" y2="910.8" stroke="#000" stroke-width="1.8"/>
<line x1="484.3" y1="906.5" x2="493.3" y2="906.5" stroke="#000" stroke-width="1.8"/>
<line x1="484.3" y1="910.8" x2="493.3" y2="910.8" stroke="#000" stroke-width="1.8"/>
<polyline points="359.10,903.00 423.00,904.00 486.80,908.80" fill="none" stroke="#000" stroke-width="2.4" stroke-linejoin="round"/>
<polyline points="359.10,900.30 423.30,897.40 487.10,896.70" fill="none" stroke="#000" stroke-width="2.4" stroke-linejoin="round"/>
<rect x="355.80" y="899.70" width="6.60" height="6.60" fill="#fff" stroke="#000" stroke-width="1.8"/>
<rect x="419.70" y="900.70" width="6.60" height="6.60" fill="#fff" stroke="#000" stroke-width="1.8"/>
<rect x="483.50" y="905.50" width="6.60" height="6.60" fill="#fff" stroke="#000" stroke-width="1.8"/>
<rect x="354.90" y="896.10" width="8.4" height="8.4" fill="#000"/>
<rect x="419.10" y="893.20" width="8.4" height="8.4" fill="#000"/>
<rect x="482.90" y="892.50" width="8.4" height="8.4" fill="#000"/>
<line x1="397.2" y1="797" x2="404.1" y2="797" stroke="#777" stroke-width="1.3"/>
<line x1="517.5" y1="460.1" x2="520" y2="460.1" stroke="#222" stroke-width="1.6"/>
<text x="148.9" y="978.9" font-size="19.2" text-anchor="start" font-family='"Liberation Serif", serif' font-weight="normal" fill="#000" stroke="#000" stroke-width="0.3">Concentration of protein (µg/mL)</text>
<defs><pattern id="h0" patternUnits="userSpaceOnUse" width="8.656" height="8.656" patternTransform="translate(216 175.0) rotate(36)"><rect width="8.656" height="8.656" fill="#fff"/><rect y="0" width="8.656" height="1.618" fill="#000"/><rect y="7.038" width="8.656" height="1.618" fill="#000"/></pattern><pattern id="h1" patternUnits="userSpaceOnUse" width="8.656" height="8.656" patternTransform="translate(434 175.9) rotate(36)"><rect width="8.656" height="8.656" fill="#fff"/><rect y="0" width="8.656" height="1.618" fill="#000"/><rect y="7.038" width="8.656" height="1.618" fill="#000"/></pattern><pattern id="h2" patternUnits="userSpaceOnUse" width="8.656" height="8.656" patternTransform="translate(499.8 159.8) rotate(36)"><rect width="8.656" height="8.656" fill="#fff"/><rect y="0" width="8.656" height="1.618" fill="#000"/><rect y="7.038" width="8.656" height="1.618" fill="#000"/></pattern><pattern id="h3" patternUnits="userSpaceOnUse" width="8.656" height="8.656" patternTransform="translate(126.2 391.4) rotate(36)"><rect width="8.656" height="8.656" fill="#fff"/><rect y="0" width="8.656" height="1.618" fill="#000"/><rect y="7.038" width="8.656" height="1.618" fill="#000"/></pattern><pattern id="h4" patternUnits="userSpaceOnUse" width="8.656" height="8.656" patternTransform="translate(225.2 354.2) rotate(36)"><rect width="8.656" height="8.656" fill="#fff"/><rect y="0" width="8.656" height="1.618" fill="#000"/><rect y="7.038" width="8.656" height="1.618" fill="#000"/></pattern></defs>
</svg></body></html>
